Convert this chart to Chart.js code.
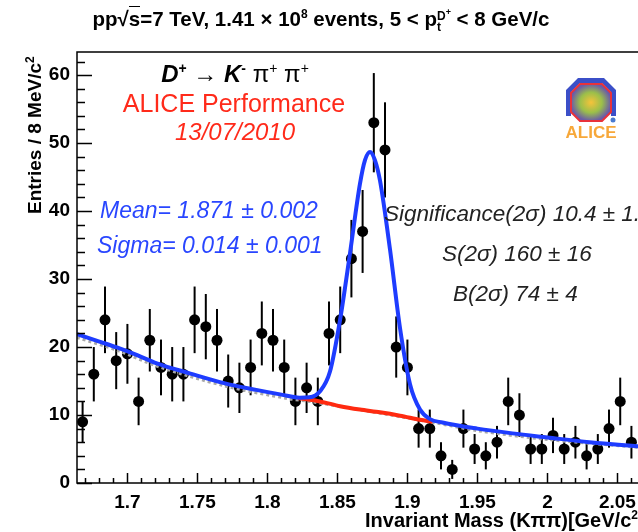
<!DOCTYPE html>
<html>
<head>
<meta charset="utf-8">
<script src="https://cdn.jsdelivr.net/npm/chart.js@4.4.1/dist/chart.umd.min.js"></script>
<style>
  body { margin: 0; background: #fff; overflow: hidden; }
  #wrap { position: relative; width: 638px; height: 532px; overflow: hidden; font-family: "Liberation Sans", Arial, Helvetica, sans-serif; }
  #c { position: absolute; left: 0; top: 0; }
  .t { position: absolute; white-space: nowrap; line-height: 1; }
  .ctr { text-align: center; width: 400px; }
  .ss { display: inline-block; vertical-align: middle; line-height: 0.9; font-size: 12px; text-align: left; }
</style>
</head>
<body>
<div id="wrap">
  <canvas id="c" width="680" height="532"></canvas>

  <div class="t ctr" style="left:21px;width:600px;top:8px;font-size:20.5px;font-weight:bold;">pp&radic;<span style="border-top:1.5px solid #000">s</span>=7 TeV, 1.41 &times; 10<sup style="font-size:12px">8</sup> events, 5 &lt; p<span class="ss">D<sup style="font-size:9px">+</sup><br>t</span> &lt; 8 GeV/c</div>

  <div class="t ctr" style="left:35px;top:61px;font-size:24px;"><b><i>D</i></b><sup style="font-size:14px;font-weight:bold">+</sup> &rarr; <b><i>K</i></b><sup style="font-size:14px;font-weight:bold">-</sup> &pi;<sup style="font-size:14px">+</sup> &pi;<sup style="font-size:14px">+</sup></div>
  <div class="t ctr" style="left:34px;top:91px;font-size:25px;color:#ff2a1a;">ALICE Performance</div>
  <div class="t ctr" style="left:35px;top:120px;font-size:24px;color:#ff2a1a;font-style:italic;">13/07/2010</div>

  <div class="t" style="left:100px;top:199px;font-size:23px;color:#2946ff;font-style:italic;">Mean= 1.871 &plusmn; 0.002</div>
  <div class="t" style="left:97px;top:234px;font-size:23px;color:#2946ff;font-style:italic;">Sigma= 0.014 &plusmn; 0.001</div>

  <div class="t" style="left:384px;top:203px;font-size:22.5px;color:#222;font-style:italic;">Significance(2&sigma;) 10.4 &plusmn; 1.0</div>
  <div class="t" style="left:442px;top:243px;font-size:22.5px;color:#222;font-style:italic;">S(2&sigma;) 160 &plusmn; 16</div>
  <div class="t" style="left:453px;top:283px;font-size:22.5px;color:#222;font-style:italic;">B(2&sigma;) 74 &plusmn; 4</div>

  <div class="t" style="left:365px;top:509px;font-size:20px;font-weight:bold;">Invariant Mass (K&pi;&pi;)[GeV/c<sup style="font-size:12px">2</sup>]</div>
  <div class="t" style="left:24px;top:214px;font-size:19px;font-weight:bold;transform:rotate(-90deg);transform-origin:0 0;">Entries / 8 MeV/c<sup style="font-size:12px">2</sup></div>

  <svg style="position:absolute;left:558px;top:72px" width="66" height="70" viewBox="0 0 66 70">
    <defs>
      <radialGradient id="g" cx="50%" cy="50%" r="50%">
        <stop offset="0" stop-color="#f6c33a"/>
        <stop offset="0.55" stop-color="#9bbf4a"/>
        <stop offset="1" stop-color="#6a5aa8"/>
      </radialGradient>
    </defs>
    <path d="M8 44 L8 18 L20 6 L46 6 L58 18 L58 44 L53 44 L53 20 L44 11 L22 11 L13 20 L13 44 Z" fill="#3b4fc8"/>
    <polygon points="22,12 44,12 53,21 53,40 44,49 22,49 13,40 13,21" fill="url(#g)" stroke="#e8323a" stroke-width="2"/>
    <circle cx="55" cy="48" r="2.5" fill="#4a7bd0"/>
    <text x="33" y="66" text-anchor="middle" font-family="Liberation Sans, Arial" font-weight="bold" font-size="17" fill="#f7a83a">ALICE</text>
  </svg>
</div>

<script>
// D+ -> K- pi+ pi+ invariant mass, 8 MeV bins
const massBins = [1.668, 1.676, 1.684, 1.692, 1.700, 1.708, 1.716, 1.724, 1.732, 1.740,
                  1.748, 1.756, 1.764, 1.772, 1.780, 1.788, 1.796, 1.804, 1.812, 1.820,
                  1.828, 1.836, 1.844, 1.852, 1.860, 1.868, 1.876, 1.884, 1.892, 1.900,
                  1.908, 1.916, 1.924, 1.932, 1.940, 1.948, 1.956, 1.964, 1.972, 1.980,
                  1.988, 1.996, 2.004, 2.012, 2.020, 2.028, 2.036, 2.044, 2.052, 2.060];
const counts = [9, 16, 24, 18, 19, 12, 21, 17, 16, 16,
                24, 23, 21, 15, 14, 17, 22, 21, 17, 12,
                14, 12, 22, 24, 33, 37, 53, 49, 20, 17,
                8, 8, 4, 2, 8, 5, 4, 6, 12, 10,
                5, 5, 7, 5, 6, 4, 5, 8, 12, 6];
const errors = [3.0, 4.0, 4.9, 4.2, 4.4, 3.5, 4.6, 4.1, 4.0, 4.0,
                4.9, 4.8, 4.6, 3.9, 3.7, 4.1, 4.7, 4.6, 4.1, 3.5,
                3.7, 3.5, 4.7, 4.9, 5.7, 6.1, 7.3, 7.0, 4.5, 4.1,
                2.8, 2.8, 2.0, 1.4, 2.8, 2.2, 2.0, 2.4, 3.5, 3.2,
                2.2, 2.2, 2.6, 2.2, 2.4, 2.0, 2.2, 2.8, 3.5, 2.4];

// total fit (blue)
const fitMass  = [1.664, 1.680, 1.693, 1.707, 1.721, 1.745, 1.769, 1.792, 1.810, 1.823, 1.830,
                  1.8376, 1.8447, 1.8519, 1.859, 1.8661, 1.8697, 1.8733, 1.8768, 1.8804, 1.8876,
                  1.8947, 1.9019, 1.909, 1.9161, 1.925, 1.950, 1.975, 2.000, 2.030, 2.064, 2.090];
const fitTotal = [21.9, 20.8, 19.9, 18.8, 17.6, 16.1, 14.7, 13.7, 13.0, 12.55, 12.6,
                  13.5, 16.4, 24.0, 33.8, 44.0, 47.5, 48.7, 47.5, 44.5, 34.3,
                  22.8, 14.5, 10.8, 9.4, 8.9, 8.0, 7.3, 6.7, 6.0, 5.4, 5.0];
// background under the peak (red)
const bkgMass  = [1.822, 1.8376, 1.8519, 1.8661, 1.8804, 1.8947, 1.909, 1.918];
const bkgValue = [12.5, 12.0, 11.3, 10.8, 10.4, 9.9, 9.3, 9.0];
// side-band background (grey dotted)
const sideMass  = [1.664, 1.693, 1.721, 1.769, 1.815, 1.830, 1.916, 1.950, 2.000, 2.090];
const sideValue = [21.4, 19.5, 17.2, 14.3, 12.4, 12.0, 9.0, 7.7, 6.4, 4.8];

const xTicks = [1.7, 1.75, 1.8, 1.85, 1.9, 1.95, 2.0, 2.05];
const yTicks = [0, 10, 20, 30, 40, 50, 60];
const xMin = 1.664, xMax = 2.0897, yMin = 0, yMax = 63.4;

const pts = (xs, ys) => xs.map((x, i) => ({ x: x, y: ys[i] }));
const font = '"Liberation Sans", Arial, Helvetica, sans-serif';

// error bars under everything
const errorBars = {
  id: 'errorBars',
  beforeDatasetsDraw(chart) {
    const { ctx, chartArea, scales: { x, y } } = chart;
    ctx.save();
    ctx.beginPath();
    ctx.rect(chartArea.left, chartArea.top, chartArea.width, chartArea.height);
    ctx.clip();
    ctx.strokeStyle = '#000';
    ctx.lineWidth = 2;
    massBins.forEach((m, i) => {
      const px = x.getPixelForValue(m);
      ctx.beginPath();
      ctx.moveTo(px, y.getPixelForValue(counts[i] - errors[i]));
      ctx.lineTo(px, y.getPixelForValue(counts[i] + errors[i]));
      ctx.stroke();
    });
    ctx.restore();
  }
};

// ROOT-like frame with inward ticks
const rootFrame = {
  id: 'rootFrame',
  afterDatasetsDraw(chart) {
    const { ctx, chartArea: a, scales: { x, y } } = chart;
    ctx.save();
    ctx.strokeStyle = '#000';
    ctx.lineWidth = 1.5;
    ctx.strokeRect(a.left, a.top, a.width, a.height);
    ctx.beginPath();
    for (let v = 0; v <= 62; v += 2) {
      const py = Math.round(y.getPixelForValue(v)) + 0.5;
      const len = v % 10 === 0 ? 15 : 8;
      ctx.moveTo(a.left, py); ctx.lineTo(a.left + len, py);
    }
    for (let k = 167; k <= 208; k++) {
      const px = Math.round(x.getPixelForValue(k / 100)) + 0.5;
      const len = k % 5 === 0 ? 10 : 5;
      ctx.moveTo(px, a.bottom); ctx.lineTo(px, a.bottom - len);
    }
    ctx.stroke();
    ctx.restore();
  }
};

new Chart(document.getElementById('c'), {
  type: 'line',
  data: {
    datasets: [
      { data: pts(fitMass, fitTotal), borderColor: '#1e3cff', borderWidth: 4, pointRadius: 0,
        cubicInterpolationMode: 'monotone', fill: false },
      { data: pts(bkgMass, bkgValue), borderColor: '#ff2a10', borderWidth: 4, pointRadius: 0,
        tension: 0.3, fill: false },
      { data: pts(sideMass, sideValue), borderColor: '#a8a8a8', borderWidth: 3, borderDash: [3, 3],
        pointRadius: 0, tension: 0.3, fill: false },
      { data: pts(massBins, counts), showLine: false, pointRadius: 5.5, pointBackgroundColor: '#000',
        pointBorderColor: '#000', pointBorderWidth: 0 }
    ]
  },
  options: {
    responsive: false,
    animation: false,
    layout: { padding: { top: 52, right: 7, left: 0, bottom: 0 } },
    plugins: { legend: { display: false }, tooltip: { enabled: false } },
    scales: {
      x: {
        type: 'linear', min: xMin, max: xMax,
        grid: { display: false, drawTicks: false }, border: { display: false },
        afterBuildTicks: ax => { ax.ticks = xTicks.map(v => ({ value: v })); },
        afterFit: ax => { ax.height = 49; },
        ticks: { padding: 8, maxRotation: 0, color: '#000', font: { family: font, size: 19, weight: 'bold' },
                 callback: v => String(v) }
      },
      y: {
        min: yMin, max: yMax,
        grid: { display: false, drawTicks: false }, border: { display: false },
        afterBuildTicks: ax => { ax.ticks = yTicks.map(v => ({ value: v })); },
        afterFit: ax => { ax.width = 77; },
        ticks: { padding: 7, color: '#000', font: { family: font, size: 19, weight: 'bold' } }
      }
    }
  },
  plugins: [errorBars, rootFrame]
});
</script>
</body>
</html>
